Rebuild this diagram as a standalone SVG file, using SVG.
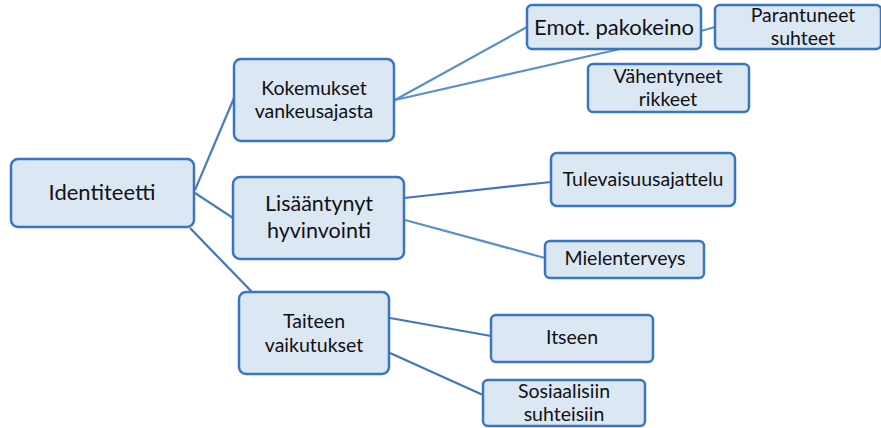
<svg xmlns="http://www.w3.org/2000/svg" width="881" height="428" viewBox="0 0 881 428">
<style>
.box{fill:#dce7f4;stroke:#3a76bf;stroke-width:2.5}
.t{font-family:Lato,"Open Sans",sans-serif;fill:#111;text-anchor:middle}
.s{font-size:19.5px}
.l{font-size:22px}
.m{font-size:21.5px}
.c{fill:none;stroke:#4a7ebb;stroke-width:2.2}
.d{stroke:#4472c4}
.e{stroke:#5b8fcb}
</style>
<g id="connectors">
<line class="c" x1="195" y1="190" x2="234" y2="98"/>
<line class="c" x1="195" y1="193" x2="233" y2="218"/>
<line class="c d" x1="190" y1="228" x2="252" y2="292"/>
<line class="c e" x1="395" y1="100" x2="527" y2="27"/>
<line class="c e" x1="395" y1="100" x2="620" y2="49"/>
<line class="c e" x1="701" y1="31" x2="715" y2="27"/>
<line class="c d" x1="404" y1="198" x2="551" y2="182"/>
<line class="c e" x1="405" y1="220" x2="545" y2="258"/>
<line class="c d" x1="390" y1="318" x2="491" y2="336"/>
<line class="c d" x1="390" y1="353" x2="483" y2="395"/>
</g>
<g id="identiteetti"><rect class="box" x="11" y="159" width="183" height="68" rx="7"/><text class="t l" x="102" y="200">Identiteetti</text></g>
<g id="kokemukset"><rect class="box" x="234" y="59" width="160" height="82" rx="7"/><text class="t s" x="314" y="95">Kokemukset</text><text class="t s" x="314" y="118">vankeusajasta</text></g>
<g id="emot"><rect class="box" x="527" y="5" width="174" height="44" rx="5"/><text class="t l" x="614" y="35">Emot. pakokeino</text></g>
<g id="parantuneet"><rect class="box" x="715" y="5" width="166" height="44" rx="5"/><text class="t s" x="803" y="22">Parantuneet</text><text class="t s" x="803" y="45">suhteet</text></g>
<g id="vahentyneet"><rect class="box" x="588" y="64" width="161" height="48" rx="5"/><text class="t s" x="668" y="83">Vähentyneet</text><text class="t s" x="668" y="106">rikkeet</text></g>
<g id="lisaantynyt"><rect class="box" x="233" y="177" width="171" height="82" rx="7"/><text class="t m" x="319" y="211">Lisääntynyt</text><text class="t m" x="319" y="237.5">hyvinvointi</text></g>
<g id="tulevaisuus"><rect class="box" x="551" y="153" width="184" height="53" rx="6"/><text class="t s" x="643" y="186">Tulevaisuusajattelu</text></g>
<g id="mielenterveys"><rect class="box" x="545" y="241" width="159" height="37" rx="5"/><text class="t s" x="625" y="265">Mielenterveys</text></g>
<g id="taiteen"><rect class="box" x="239" y="292" width="150" height="82" rx="7"/><text class="t s" x="314" y="328">Taiteen</text><text class="t s" x="314" y="351.5">vaikutukset</text></g>
<g id="itseen"><rect class="box" x="491" y="315" width="162" height="47" rx="5"/><text class="t s" x="572" y="344">Itseen</text></g>
<g id="sosiaalisiin"><rect class="box" x="483" y="380" width="162" height="46" rx="5"/><text class="t s" x="564" y="397.5">Sosiaalisiin</text><text class="t s" x="564" y="421">suhteisiin</text></g>
</svg>
